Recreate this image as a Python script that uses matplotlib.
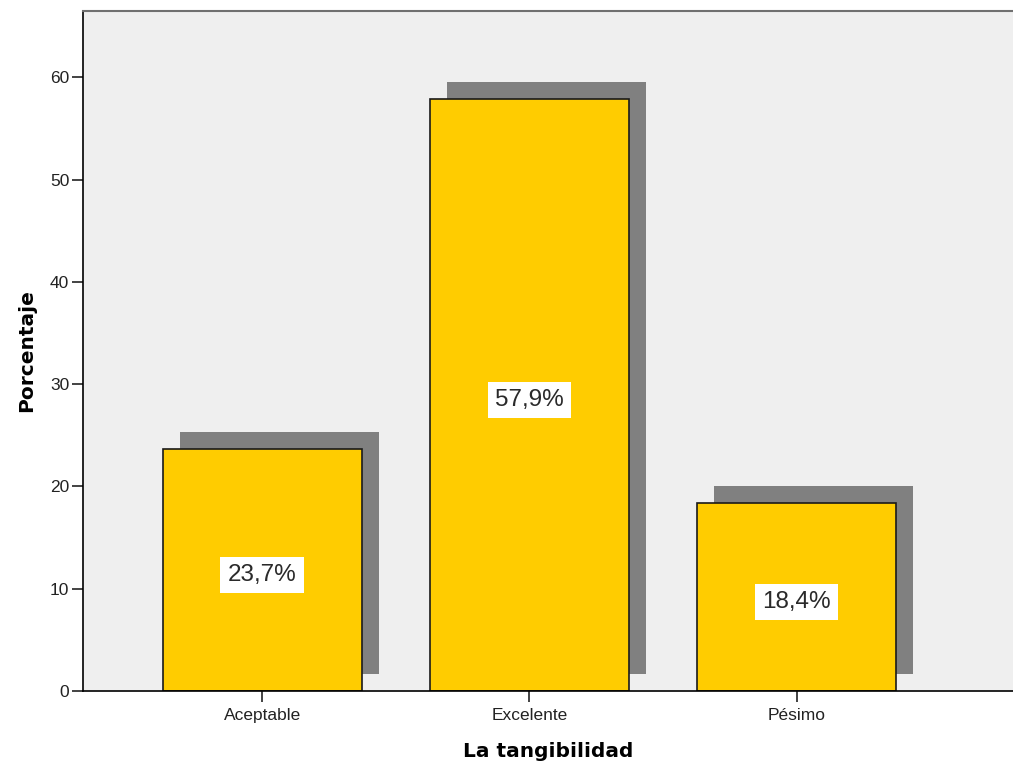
import numpy as np
import matplotlib
matplotlib.use("Agg")
import matplotlib.pyplot as plt

plt.rcParams['font.family'] = ['Liberation Sans', 'DejaVu Sans']

categorias = ['Aceptable', 'Excelente', 'Pésimo']
porcentajes = [23.7, 57.9, 18.4]
etiquetas = ['23,7%', '57,9%', '18,4%']

fig = plt.figure(figsize=(10.13, 7.67), dpi=100)
ax = fig.add_axes([0.082, 0.099, 0.918, 0.887])
ax.set_facecolor('#EFEFEF')

x = np.arange(len(categorias))
ancho = 0.745
dx, dy = 0.064, 1.65  # desplazamiento de la sombra

# sombra gris detras de cada barra
ax.bar(x + dx, porcentajes, width=ancho, bottom=dy, color='#808080',
       edgecolor='none', zorder=1)
ax.bar(x, porcentajes, width=ancho, color='#FFCC00', edgecolor='#1a1a1a',
       linewidth=1.2, zorder=2)

for xi, v, lab in zip(x, porcentajes, etiquetas):
    ax.text(xi, v / 2 - 0.5, lab, ha='center', va='center', fontsize=17.5,
            color='#2a2a2a', zorder=3,
            bbox=dict(boxstyle='square,pad=0.3', facecolor='white',
                      edgecolor='none'))

ax.set_xlim(-0.67, 2.81)
ax.set_ylim(0, 66.5)
ax.set_yticks([0, 10, 20, 30, 40, 50, 60])
ax.set_xticks(x)
ax.set_xticklabels(categorias)
ax.tick_params(axis='both', labelsize=12.5, colors='#222222', length=8, width=1.2, pad=2)
ax.tick_params(axis='x', pad=4)

ax.spines['right'].set_visible(False)
ax.spines['top'].set_color('#707070')
ax.spines['top'].set_linewidth(1.5)
ax.spines['left'].set_linewidth(1.2)
ax.spines['bottom'].set_linewidth(1.2)

ax.set_ylabel('Porcentaje', fontsize=14.5, fontweight='bold', labelpad=10,
              family='DejaVu Sans')
ax.set_xlabel('La tangibilidad', fontsize=14.5, fontweight='bold', labelpad=14,
              family='DejaVu Sans')

fig.savefig('out.png', dpi=100)
